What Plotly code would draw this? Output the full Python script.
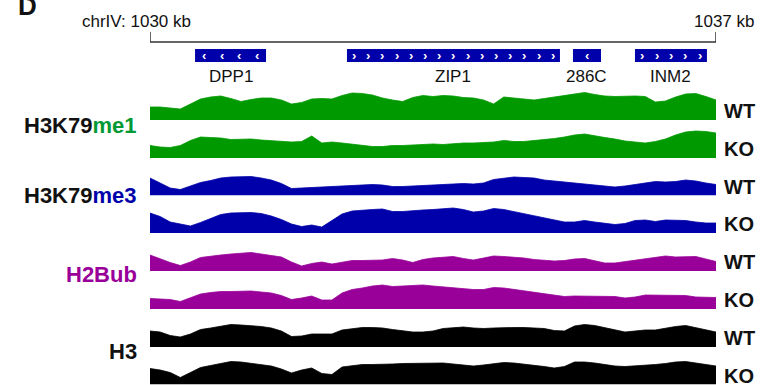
import numpy as np
import plotly.graph_objects as go

W, H = 761, 385

# genomic bins (kb)
positions_kb = np.round(np.arange(0, 57) * 0.125 + 1030, 3)

me1_wt = [13, 13, 12, 11, 16, 21, 23, 24, 21.5, 18.5, 20.5, 22, 22, 20, 16, 17.5, 21, 21.5, 21, 24.5,
          27, 26.5, 25, 22, 20, 18.5, 22.5, 24.5, 23.5, 24.5, 24, 22.5, 22, 20, 16, 23, 22, 21, 20, 21.5,
          23, 24.5, 26, 27.5, 25.5, 24, 23.5, 24, 24, 23.5, 18, 19, 23, 26, 26.5, 23.5, 20]
me1_ko = [12.5, 11, 10.5, 12.5, 17.5, 21, 20.5, 20, 18.5, 19, 19, 18, 17.5, 17, 16, 16.5, 22, 15, 16, 15,
          14, 12.5, 11.5, 11.5, 12.5, 12.5, 13, 14, 14, 13.5, 14.5, 15, 15, 15.5, 16, 17.5, 16.5, 16.5, 17.5, 18,
          19.5, 21, 23, 24, 22, 20.5, 19, 17, 16, 15, 16.5, 19, 23, 26, 27, 26.5, 25]
me3_wt = [17.5, 12.5, 7.5, 6, 9.5, 13, 15, 17.5, 18.5, 18.5, 19, 17.5, 15.5, 12, 7, 7.5, 8, 8, 8.5, 9,
          9.5, 10.5, 11, 10.5, 9, 9, 9.5, 9.5, 10, 11, 11.5, 12, 11.5, 12.5, 16, 17.5, 18.5, 18, 17.5, 15.5,
          14.5, 13, 12, 11, 10, 9, 8.5, 9.5, 11, 12.5, 14, 13.5, 14, 15.5, 14.5, 12.5, 11]
me3_ko = [20, 16.5, 11, 9, 7, 10.5, 14.5, 18.5, 20, 20.5, 20.5, 19.5, 17, 13.5, 9, 6.5, 8, 6, 12.5, 19,
          22, 23, 23.5, 24, 21.5, 21.5, 22.5, 23, 23.5, 24, 25, 23.5, 21, 22, 24.5, 23.5, 21.5, 19.5, 17.5, 15.5,
          13, 11, 11, 12.5, 11, 9.5, 8.5, 9.5, 12.5, 13, 11.5, 13, 13, 12.5, 11, 10, 10]
h2bub_wt = [16, 12, 8.5, 5.5, 9, 13.5, 15, 16, 17, 17.5, 18.5, 17, 15.5, 14, 9, 5, 7.5, 9, 7, 9,
            10.5, 10.5, 10.5, 11, 12.5, 11, 8.5, 11.5, 13, 13.5, 14.5, 12.5, 11, 13, 15, 14.5, 14, 13, 11.5, 10.5,
            10, 10.5, 12, 12.5, 10.5, 8, 8, 9.5, 11, 12.5, 14, 15, 14, 14, 14.5, 12, 9.5]
h2bub_ko = [10.5, 10, 9.5, 7.5, 11, 15, 16.5, 17.5, 17.5, 17.5, 18, 17, 16, 13.5, 9.5, 11, 13, 9, 9, 16,
            19.5, 21, 23, 24, 22.5, 23, 23.5, 24, 23, 22, 21.5, 20.5, 19.5, 19.5, 21.5, 21, 19.5, 18.5, 16.5, 15,
            13.5, 12.5, 13, 13, 13, 13, 12.5, 11, 12, 14, 14, 14, 14, 13.5, 12, 11.5, 11.5]
h3_wt = [16, 15, 11.5, 10, 13, 17.5, 19, 20.5, 22.5, 22, 21.5, 20.5, 19, 16, 10.5, 11, 13, 13, 13, 17,
         18.5, 19.5, 19.5, 19, 17.5, 16, 15, 15, 16, 18.5, 19.5, 20, 19, 18.5, 19, 19.5, 19.5, 19.5, 19, 18.5,
         16.5, 16, 21, 22.5, 21.5, 19.5, 17, 15, 16, 17, 17, 19, 20.5, 21.5, 19.5, 17, 15]
h3_ko = [16, 14.5, 12, 7, 12, 17, 19, 21, 23, 22.5, 21, 20, 18.5, 15.5, 11.5, 14.5, 16.5, 11, 10, 17.5,
         19, 20, 20, 20, 20.5, 21, 21, 21, 21.5, 21.5, 20.5, 19.5, 18.5, 19.5, 21, 22, 21.5, 20.5, 19.5, 18,
         16.5, 18, 22.5, 22.5, 21.5, 20, 18.5, 18, 18.5, 19.5, 20, 21, 22.5, 23, 21.5, 19.5, 18.5]

tracks = [me1_wt, me1_ko, me3_wt, me3_ko, h2bub_wt, h2bub_ko, h3_wt, h3_ko]
track_conditions = ["WT", "KO"] * 4
track_colors = ["#009900", "#009900", "#0000AA", "#0000AA",
                "#990099", "#990099", "#000000", "#000000"]

# genes: name, start kb, end kb, strand
gene_names = ["DPP1", "ZIP1", "286C", "INM2"]
gene_starts = [1030.557, 1032.436, 1035.231, 1035.998]
gene_ends = [1031.435, 1035.070, 1035.578, 1036.888]
gene_strands = ["-", "+", "-", "+"]
gene_chevrons = [4, 15, 1, 5]

chrom_label = "chrIV: 1030 kb"
end_label = "1037 kb"

FONT = "Liberation Sans, Arial, sans-serif"
x0_px, x1_px = 150, 716
baselines = [120, 158, 195.5, 233, 271, 309, 347, 384.5]
track_h = 30


def px(x):
    return x / W


def py(y):
    return 1 - y / H


fig = go.Figure()
layout = dict(
    width=W, height=H, margin=dict(l=0, r=0, t=0, b=0),
    paper_bgcolor="white", plot_bgcolor="white", showlegend=False,
    xaxis=dict(range=[1030, 1037], domain=[px(x0_px), px(x1_px)], visible=False, fixedrange=True),
)
for k, (vals, col) in enumerate(zip(tracks, track_colors)):
    yname = "y" if k == 0 else f"y{k + 1}"
    key = "yaxis" if k == 0 else f"yaxis{k + 1}"
    b = baselines[k]
    layout[key] = dict(range=[0, track_h], domain=[py(b), py(b - track_h)],
                       visible=False, anchor="x", fixedrange=True)
    fig.add_trace(go.Scatter(x=positions_kb, y=vals, mode="lines", fill="tozeroy",
                             fillcolor=col, line=dict(color=col, width=0.8),
                             xaxis="x", yaxis=yname, hoverinfo="skip"))
fig.update_layout(**layout)

shapes = []
annots = []
# scale bar
sb_y, sb_tick = 42, 32
shapes.append(dict(type="line", xref="x", yref="paper", x0=1030, x1=1037, y0=py(sb_y), y1=py(sb_y),
                   line=dict(color="#333333", width=1.5)))
for xk in (1030, 1037):
    shapes.append(dict(type="line", xref="x", yref="paper", x0=xk, x1=xk, y0=py(sb_y), y1=py(sb_tick),
                       line=dict(color="#333333", width=1.5)))
annots.append(dict(text=chrom_label, xref="paper", yref="paper", x=px(80), y=py(21), xanchor="left",
                   yanchor="middle", showarrow=False, font=dict(family=FONT, size=17, color="#111")))
annots.append(dict(text=end_label, xref="paper", yref="paper", x=px(757), y=py(21), xanchor="right",
                   yanchor="middle", showarrow=False, font=dict(family=FONT, size=17, color="#111")))
annots.append(dict(text="<b>D</b>", xref="paper", yref="paper", x=px(16), y=py(6), xanchor="left",
                   yanchor="middle", showarrow=False, font=dict(family=FONT, size=26, color="#111")))

# genes
g_top, g_bot = 49, 62
for name, s, e, strand, n in zip(gene_names, gene_starts, gene_ends, gene_strands, gene_chevrons):
    shapes.append(dict(type="rect", xref="x", yref="paper", x0=s, x1=e, y0=py(g_bot), y1=py(g_top),
                       fillcolor="#0000AA", line=dict(width=0)))
    span = e - s
    step = span / n
    for i in range(n):
        cx = s + step * (i + 0.5)
        annots.append(dict(text="<b>›</b>" if strand == "+" else "<b>‹</b>", xref="x", yref="paper",
                           x=cx, y=py(55.5), xanchor="center", yanchor="middle", showarrow=False,
                           font=dict(family=FONT, size=13, color="white")))
    annots.append(dict(text=name, xref="x", yref="paper", x=(s + e) / 2, y=py(77), xanchor="center",
                       yanchor="middle", showarrow=False, font=dict(family=FONT, size=17, color="#111")))

# left labels
left_labels = ["H3K79<span style='color:#009933'>me1</span>",
               "H3K79<span style='color:#0000AA'>me3</span>",
               "<span style='color:#990099'>H2Bub</span>", "H3"]
left_y = [125, 196, 274, 351]
for t, yy in zip(left_labels, left_y):
    annots.append(dict(text="<b>" + t + "</b>", xref="paper", yref="paper", x=px(139), y=py(yy),
                       xanchor="right", yanchor="middle", showarrow=False,
                       font=dict(family=FONT, size=22, color="#111")))
# right labels
for cond, b in zip(track_conditions, baselines):
    annots.append(dict(text="<b>" + cond + "</b>", xref="paper", yref="paper", x=px(722), y=py(b - 9),
                       xanchor="left", yanchor="middle", showarrow=False,
                       font=dict(family=FONT, size=20, color="#111")))

fig.update_layout(shapes=shapes, annotations=annots)
fig.write_html("out.html", config={"displayModeBar": False, "staticPlot": True},
               post_script="document.body.style.margin='0';document.body.style.overflow='hidden';")
